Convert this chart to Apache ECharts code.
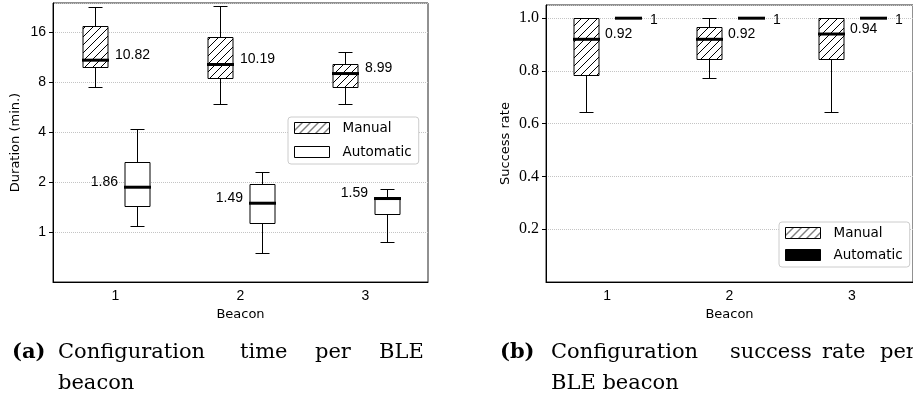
<!DOCTYPE html>
<html>
<head>
<meta charset="utf-8">
<script src="https://cdn.jsdelivr.net/npm/echarts@6/dist/echarts.min.js"></script>
<style>
html, body { margin: 0; padding: 0; background: #fff; }
#chart { width: 913px; height: 402px; }
</style>
</head>
<body>
<div id="chart"></div>
<script>
const beacons = ['1', '2', '3'];

// (a) configuration time in minutes: whisker low, q1, median, q3, whisker high
const manualTimeLow = [7.43, 5.9, 5.9];
const manualTimeQ1 = [9.9, 8.5, 7.5];
const manualTimeMedian = [10.82, 10.19, 8.99];
const manualTimeQ3 = [17.4, 15.0, 10.2];
const manualTimeHigh = [22.5, 22.9, 12.2];

const autoTimeLow = [1.08, 0.75, 0.87];
const autoTimeQ1 = [1.43, 1.13, 1.28];
const autoTimeMedian = [1.86, 1.49, 1.59];
const autoTimeQ3 = [2.65, 1.94, 1.62];
const autoTimeHigh = [4.15, 2.31, 1.82];

// (b) success rate
const manualRateLow = [0.645, 0.775, 0.645];
const manualRateQ1 = [0.783, 0.847, 0.847];
const manualRateMedian = [0.92, 0.92, 0.94];
const manualRateQ3 = [1.0, 0.968, 1.0];
const manualRateHigh = [1.0, 1.0, 1.0];

const autoRateLow = [1, 1, 1];
const autoRateQ1 = [1, 1, 1];
const autoRateMedian = [1, 1, 1];
const autoRateQ3 = [1, 1, 1];
const autoRateHigh = [1, 1, 1];

const timeTicks = [1, 2, 4, 8, 16];

function rows(low, q1, med, q3, high) {
    return beacons.map((b, i) => [i, low[i], q1[i], med[i], q3[i], high[i]]);
}

function makeHatch() {
    let c = document.createElement('canvas');
    c.width = 8;
    c.height = 8;
    let ctx = c.getContext('2d');
    ctx.fillStyle = '#fff';
    ctx.fillRect(0, 0, 8, 8);
    ctx.strokeStyle = '#000';
    ctx.lineWidth = 1;
    ctx.beginPath();
    ctx.moveTo(-1, 9); ctx.lineTo(9, -1);
    ctx.moveTo(-1, 1); ctx.lineTo(1, -1);
    ctx.moveTo(7, 9); ctx.lineTo(9, 7);
    ctx.stroke();
    return c;
}
const hatch = { image: makeHatch(), repeat: 'repeat' };

const numFont = '14px "Liberation Sans"';

// draws one box per beacon, shifted sideways from the category tick
function boxRenderer(offset, fill, labelSide, labelDx, labelDy) {
    return function (params, api) {
        let cat = api.value(0);
        let px = (v) => api.coord([cat, v]);
        let yLow = Math.round(px(api.value(1))[1]) + 0.5;
        let yQ1 = Math.round(px(api.value(2))[1]) + 0.5;
        let yMed = px(api.value(3))[1];
        let yQ3 = Math.round(px(api.value(4))[1]) + 0.5;
        let yHigh = Math.round(px(api.value(5))[1]) + 0.5;
        let cx = Math.round(px(api.value(3))[0] + offset) + 0.5;
        let half = 12.5, cap = 7;
        let line = (x1, y1, x2, y2, w) => ({
            type: 'line',
            shape: { x1: x1, y1: y1, x2: x2, y2: y2 },
            style: { stroke: '#000', lineWidth: w || 1 }
        });
        let tx = labelSide === 'right' ? cx + half + labelDx : cx - half - labelDx;
        return {
            type: 'group',
            children: [
                line(cx, yQ1, cx, yLow),
                line(cx, yQ3, cx, yHigh),
                line(cx - cap, yLow, cx + cap, yLow),
                line(cx - cap, yHigh, cx + cap, yHigh),
                {
                    type: 'rect',
                    shape: { x: cx - half, y: yQ3, width: half * 2, height: yQ1 - yQ3 },
                    style: { fill: fill, stroke: '#000', lineWidth: 1 }
                },
                line(cx - half - 1, yMed, cx + half + 1, yMed, 3),
                {
                    type: 'text',
                    style: {
                        text: String(api.value(3)),
                        x: tx,
                        y: yMed + labelDy,
                        font: numFont,
                        fill: '#000',
                        align: labelSide === 'right' ? 'left' : 'right',
                        verticalAlign: 'middle'
                    }
                }
            ]
        };
    };
}

function captionText(text, x, y, bold) {
    return {
        type: 'text',
        left: x,
        top: y,
        style: {
            text: text,
            font: (bold ? 'bold ' : '') + '21px "DejaVu Serif"',
            fill: '#000'
        }
    };
}

const sansName = { fontFamily: 'DejaVu Sans', fontSize: 13, color: '#000' };

let chart = echarts.init(document.getElementById('chart'));
let option = {
    animation: false,
    backgroundColor: '#fff',
    grid: [
        { left: 53, top: 3, width: 375, height: 279, show: true, borderColor: '#222', borderWidth: 1 },
        { left: 546, top: 5, width: 372, height: 277, show: true, borderColor: '#222', borderWidth: 1 }
    ],
    xAxis: [0, 1].map(g => ({
        type: 'category',
        gridIndex: g,
        data: beacons,
        name: 'Beacon',
        nameLocation: 'middle',
        nameGap: 24,
        nameTextStyle: sansName,
        axisLine: { lineStyle: { color: '#000', width: 1 } },
        axisTick: { alignWithLabel: true, length: 4, lineStyle: { color: '#000' } },
        axisLabel: { margin: 7, color: '#000', fontFamily: 'Liberation Sans', fontSize: 14 },
        splitLine: { show: false }
    })),
    yAxis: [
        {
            type: 'log',
            logBase: 2,
            gridIndex: 0,
            min: 0.5,
            max: 23.9,
            name: 'Duration (min.)',
            nameLocation: 'middle',
            nameGap: 31,
            nameTextStyle: sansName,
            axisLine: { show: true, lineStyle: { color: '#000', width: 1 } },
            axisTick: { show: true, length: 4, lineStyle: { color: '#000' } },
            axisLabel: {
                margin: 7, color: '#000', fontFamily: 'Liberation Sans', fontSize: 14,
                showMinLabel: false, showMaxLabel: false,
                formatter: v => (timeTicks.indexOf(Math.round(v * 100) / 100) >= 0 ? String(Math.round(v)) : '')
            },
            splitLine: { show: true, lineStyle: { color: '#c4c4c4', type: 'dotted', width: 1 } }
        },
        {
            type: 'value',
            gridIndex: 1,
            min: 0,
            max: 1.05,
            interval: 0.2,
            name: 'Success rate',
            nameLocation: 'middle',
            nameGap: 34,
            nameTextStyle: sansName,
            axisLine: { show: true, lineStyle: { color: '#000', width: 1 } },
            axisTick: { show: true, length: 4, lineStyle: { color: '#000' } },
            axisLabel: {
                margin: 7, color: '#000', fontFamily: 'Liberation Serif', fontSize: 16,
                showMinLabel: false, showMaxLabel: false,
                formatter: v => v.toFixed(1)
            },
            splitLine: { show: true, lineStyle: { color: '#c4c4c4', type: 'dotted', width: 1 } }
        }
    ],
    legend: [
        {
            left: 288, top: 117, orient: 'vertical',
            icon: 'rect', itemWidth: 35, itemHeight: 11, itemGap: 10,
            backgroundColor: '#fff', borderColor: '#ccc', borderWidth: 1, borderRadius: 3,
            padding: [4, 7, 5, 6],
            selectedMode: false,
            textStyle: { fontFamily: 'DejaVu Sans', fontSize: 13.5, color: '#000', padding: [0, 0, 0, 8] },
            data: [
                { name: 'Manual', itemStyle: { color: hatch, borderColor: '#000', borderWidth: 1 } },
                { name: 'Automatic', itemStyle: { color: '#fff', borderColor: '#000', borderWidth: 1 } }
            ]
        },
        {
            left: 779, top: 222, orient: 'vertical',
            icon: 'rect', itemWidth: 35, itemHeight: 11, itemGap: 8,
            backgroundColor: '#fff', borderColor: '#ccc', borderWidth: 1, borderRadius: 3,
            padding: [4, 7, 5, 6],
            selectedMode: false,
            textStyle: { fontFamily: 'DejaVu Sans', fontSize: 13.5, color: '#000', padding: [0, 0, 0, 8] },
            data: [
                { name: 'Manual', itemStyle: { color: hatch, borderColor: '#000', borderWidth: 1 } },
                { name: 'Automatic', itemStyle: { color: '#000', borderColor: '#000', borderWidth: 1 } }
            ]
        }
    ],
    series: [
        {
            name: 'Manual', type: 'custom', xAxisIndex: 0, yAxisIndex: 0,
            encode: { x: 0, y: [1, 2, 3, 4, 5] },
            itemStyle: { color: '#000' },
            renderItem: boxRenderer(-21, hatch, 'right', 7, -5),
            data: rows(manualTimeLow, manualTimeQ1, manualTimeMedian, manualTimeQ3, manualTimeHigh)
        },
        {
            name: 'Automatic', type: 'custom', xAxisIndex: 0, yAxisIndex: 0,
            encode: { x: 0, y: [1, 2, 3, 4, 5] },
            itemStyle: { color: '#fff' },
            renderItem: boxRenderer(21, '#fff', 'left', 7, -5),
            data: rows(autoTimeLow, autoTimeQ1, autoTimeMedian, autoTimeQ3, autoTimeHigh)
        },
        {
            name: 'Manual', type: 'custom', xAxisIndex: 1, yAxisIndex: 1,
            encode: { x: 0, y: [1, 2, 3, 4, 5] },
            itemStyle: { color: '#000' },
            renderItem: boxRenderer(-21, hatch, 'right', 6, -5),
            data: rows(manualRateLow, manualRateQ1, manualRateMedian, manualRateQ3, manualRateHigh)
        },
        {
            name: 'Automatic', type: 'custom', xAxisIndex: 1, yAxisIndex: 1,
            encode: { x: 0, y: [1, 2, 3, 4, 5] },
            itemStyle: { color: '#000' },
            renderItem: boxRenderer(21, '#000', 'right', 9, 2),
            data: rows(autoRateLow, autoRateQ1, autoRateMedian, autoRateQ3, autoRateHigh)
        }
    ],
    graphic: [
        captionText('(a)', 12, 342, true),
        captionText('Configuration', 58, 342),
        captionText('time', 240, 342),
        captionText('per', 315, 342),
        captionText('BLE', 379, 342),
        captionText('beacon', 58, 373),
        captionText('(b)', 500, 342, true),
        captionText('Configuration', 551, 342),
        captionText('success', 730, 342),
        captionText('rate', 822, 342),
        captionText('per', 880, 342),
        captionText('BLE beacon', 551, 373)
    ]
};
chart.setOption(option);
</script>
</body>
</html>
